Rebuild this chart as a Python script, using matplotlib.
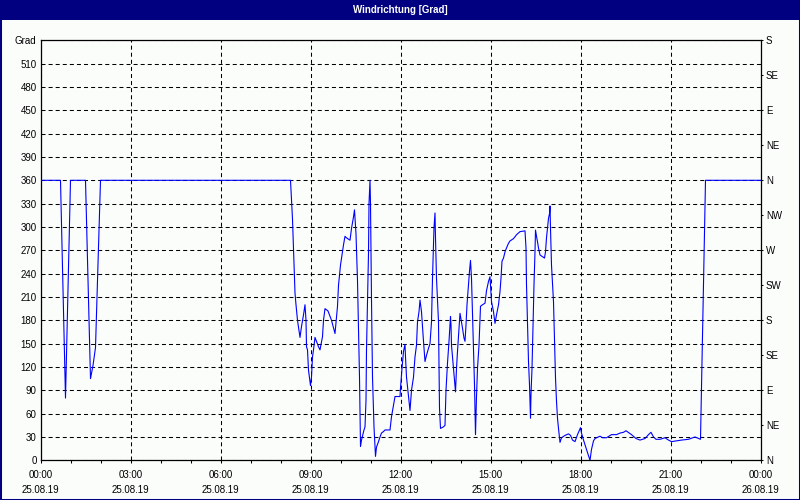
import matplotlib
matplotlib.use("Agg")
import matplotlib.pyplot as plt
import matplotlib.dates as mdates
from matplotlib.patches import Rectangle
import pandas as pd

plt.rcParams['font.family'] = ['Liberation Sans', 'DejaVu Sans']
plt.rcParams['lines.scale_dashes'] = False

title = "Windrichtung [Grad]"
day_start = "2019-08-25 00:00"
left_unit = "Grad"
compass = ["N", "NE", "E", "SE", "S", "SW", "W", "NW", "N", "NE", "E", "SE", "S"]

# minutes since midnight 25.08.19 and wind direction in degrees
minutes = [
    0, 40, 50, 60, 90, 100, 105, 110, 120, 500,
    504, 507, 509, 511, 514, 519, 522, 526, 529, 531,
    532, 534, 536, 540, 542, 544, 546, 549, 556, 559,
    564, 566, 569, 575, 582, 589, 594, 596, 600, 606,
    609, 612, 619, 622, 626, 628, 631, 634, 636, 638,
    640, 642, 647, 649, 651, 652, 654, 656, 657, 659,
    660, 662, 664, 667, 670, 672, 676, 679, 682, 686,
    689, 699, 702, 706, 709, 719, 720, 723, 726, 729,
    730, 732, 736, 739, 742, 746, 749, 752, 754, 757,
    759, 762, 766, 769, 772, 776, 779, 782, 784, 787,
    789, 790, 792, 796, 798, 800, 806, 809, 811, 814,
    817, 820, 821, 822, 826, 830, 832, 834, 837, 839,
    844, 847, 849, 851, 853, 856, 858, 860, 862, 864,
    866, 868, 870, 872, 874, 877, 879, 880, 884, 889,
    892, 896, 899, 902, 906, 909, 912, 916, 919, 921,
    923, 926, 929, 932, 936, 939, 946, 952, 959, 969,
    971, 972, 974, 976, 978, 979, 980, 981, 983, 985,
    987, 989, 990, 992, 994, 996, 999, 1006, 1008, 1010,
    1012, 1014, 1016, 1018, 1019, 1020, 1022, 1026, 1028, 1030,
    1032, 1034, 1036, 1039, 1042, 1049, 1056, 1060, 1064, 1069,
    1074, 1080, 1082, 1086, 1092, 1099, 1102, 1106, 1109, 1116,
    1119, 1124, 1132, 1142, 1152, 1159, 1166, 1171, 1182, 1191,
    1199, 1209, 1216, 1221, 1226, 1231, 1239, 1249, 1256, 1262,
    1272, 1282, 1296, 1309, 1316, 1320, 1330, 1440,
]
direction = [
    360, 360, 80, 360, 360, 105, 122, 145, 360, 360,
    310, 251, 215, 200, 180, 158, 172, 187, 200, 180,
    146, 142, 116, 96, 107, 133, 142, 158, 146, 142,
    159, 180, 195, 192, 180, 163, 198, 225, 251, 277,
    288, 286, 283, 298, 313, 322, 291, 231, 167, 107,
    18, 26, 39, 43, 77, 142, 206, 266, 330, 360,
    330, 206, 107, 43, 5, 17, 24, 30, 35, 37,
    39, 39, 56, 71, 82, 82, 93, 118, 140, 149,
    133, 107, 82, 64, 90, 107, 133, 148, 178, 191,
    206, 191, 153, 127, 135, 144, 150, 178, 234, 299,
    318, 286, 234, 178, 67, 41, 43, 45, 90, 125,
    153, 185, 174, 148, 118, 88, 118, 140, 170, 189,
    170, 157, 153, 174, 200, 226, 243, 257, 234, 187,
    140, 97, 33, 82, 118, 148, 183, 198, 200, 202,
    218, 230, 236, 204, 191, 176, 187, 200, 217, 234,
    256, 260, 268, 273, 279, 282, 285, 290, 294, 295,
    273, 226, 174, 127, 97, 75, 54, 85, 118, 174,
    226, 268, 296, 288, 281, 273, 264, 261, 260, 268,
    286, 298, 311, 317, 327, 298, 251, 204, 157, 106,
    76, 54, 41, 23, 29, 32, 34, 32, 26, 24,
    33, 42, 35, 26, 14, 0, 14, 25, 28, 30,
    31, 29, 29, 33, 33, 35, 36, 38, 33, 28,
    26, 28, 33, 36, 30, 27, 27, 29, 26, 24,
    25, 26, 27, 30, 28, 27, 360, 360,
]

base = pd.Timestamp(day_start)
times = [base + pd.Timedelta(minutes=m) for m in minutes]

W, H = 800, 500
fig = plt.figure(figsize=(8, 5), dpi=100)
fig.patch.set_facecolor('#FBFDFB')

# title bar
fig.patches.append(Rectangle((0, 1 - 20 / H), 1, 20 / H, transform=fig.transFigure,
                             facecolor='#000080', edgecolor='none', zorder=0))
fig.text(0.5, 1 - 10 / H, title, color='white', fontsize=7, fontweight='bold',
         ha='center', va='center')
# frame border
fig.patches.append(Rectangle((0, 0), 1, 1, transform=fig.transFigure,
                             facecolor='none', edgecolor='#000080', linewidth=2.2, zorder=10))

ax = fig.add_axes([40.5 / W, 1 - 460.3 / H, 720 / W, 420 / H])
ax.set_facecolor('#FBFDFB')
ax.plot(times, direction, color='#0000FF', linewidth=0.8, zorder=3)

ax.set_xlim(base, base + pd.Timedelta(days=1))
ax.set_ylim(0, 540)

yt = list(range(0, 541, 30))
ax.set_yticks(yt)
ax.set_yticklabels([str(v) for v in yt[:-1]] + [left_unit])
ax.tick_params(axis='y', length=0, pad=2.8, labelsize=7)

ax.xaxis.set_major_locator(mdates.HourLocator(byhour=range(0, 24, 3)))
ax.xaxis.set_minor_locator(mdates.HourLocator())
ax.xaxis.set_major_formatter(mdates.DateFormatter('%H:%M\n%d.%m.%y'))
ax.tick_params(axis='x', which='both', direction='out', length=2.4, width=0.75,
               labelsize=7, pad=4.5)
for lab in ax.get_xticklabels():
    lab.set_linespacing(1.6)

ax.grid(True, which='major', color='black', linestyle=(0, (2.9, 2.2)), linewidth=0.75)
for s in ax.spines.values():
    s.set_color('black')
    s.set_linewidth(0.9)

ax2 = ax.twinx()
ax2.set_ylim(0, 540)
ax2.set_yticks(list(range(0, 541, 45)))
ax2.set_yticklabels(compass)
ax2.tick_params(axis='y', direction='out', length=1.6, width=0.75, pad=2.2, labelsize=7)
for s in ax2.spines.values():
    s.set_visible(False)

fig.savefig('out.png', dpi=100, facecolor=fig.get_facecolor())
